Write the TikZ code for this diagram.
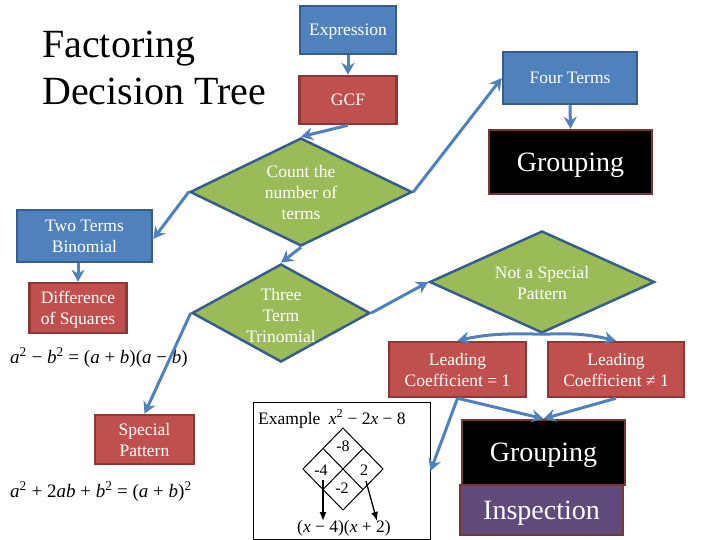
\documentclass[tikz,border=0pt]{standalone}
\usepackage{fontspec}
\setmainfont{Liberation Serif}
\usetikzlibrary{shapes.geometric,arrows.meta,calc}
\definecolor{blueF}{HTML}{4F81BD}
\definecolor{blueD}{HTML}{385D8A}
\definecolor{redF}{HTML}{C0504D}
\definecolor{redD}{HTML}{8C3836}
\definecolor{greenF}{HTML}{9BBB59}
\definecolor{brownD}{HTML}{773535}
\definecolor{purpF}{HTML}{604A7B}
\newcommand\fsz[2]{\fontsize{#1}{#2}\selectfont}
\tikzset{
  boxbase/.style={rectangle, line width=2.5pt, text=white, align=center, inner sep=0pt, text depth=0pt, font=\fsz{17.5}{21}},
  bluebox/.style={boxbase, draw=blueD, fill=blueF},
  redbox/.style={boxbase, draw=redD, fill=redF},
  blackbox/.style={boxbase, draw=brownD, fill=black, font=\fsz{28}{32}},
  purpbox/.style={boxbase, draw=brownD, fill=purpF, font=\fsz{28}{32}},
  dia/.style={diamond, draw=blueD, fill=greenF, line width=2.5pt, inner sep=0pt},
  diatext/.style={text=white, align=center, text depth=0pt, font=\fsz{17.5}{21}},
  arr/.style={draw=blueF, line width=3pt, -{Stealth[length=12pt,width=13pt,inset=4pt]}},
  frm/.style={anchor=base west, inner sep=0pt, font=\fsz{19}{22}},
  exfont/.style={inner sep=0pt, font=\fsz{16}{19}},
  karr/.style={draw=black, line width=1.3pt, -{Latex[length=9pt,width=7pt]}}
}
\begin{document}
\begin{tikzpicture}[x=1pt,y=-1pt]
\useasboundingbox (0,0) rectangle (720,540);
% title
\node[anchor=base west, inner sep=0pt, font=\fsz{40}{46}] (title1) at (42,58) {Factoring};
\node[anchor=base west, inner sep=0pt, font=\fsz{40}{46}] (title2) at (42,105) {Decision Tree};
% boxes
\node[bluebox, minimum width=96pt, minimum height=48pt] (expr) at (348,30) {Expression};
\node[redbox, minimum width=97pt, minimum height=48pt] (gcf) at (348,100) {GCF};
\node[bluebox, minimum width=134pt, minimum height=52pt] (four) at (570,78) {Four Terms};
\node[blackbox, minimum width=163pt, minimum height=64pt] (grp1) at (570.5,162) {Grouping};
\node[dia, minimum width=222pt, minimum height=108pt] (count) at (301,192) {};
\node[diatext] (countt) at (count) {Count the\\number of\\terms};
\node[bluebox, minimum width=135pt, minimum height=52pt] (two) at (84.5,236) {Two Terms\\Binomial};
\node[redbox, minimum width=97pt, minimum height=50pt] (diff) at (78,308) {Difference\\of Squares};
\node[dia, minimum width=178pt, minimum height=98pt] (three) at (281,313) {};
\node[diatext] (threet) at (281,315) {Three\\Term\\Trinomial};
\node[redbox, minimum width=99pt, minimum height=49pt] (special) at (144.5,439.5) {Special\\Pattern};
\node[dia, minimum width=225pt, minimum height=102pt] (notsp) at (542,282) {};
\node[diatext] (notspt) at (542,283) {Not a Special\\Pattern};
\node[redbox, minimum width=137pt, minimum height=55pt] (lead1) at (457.5,369.5) {Leading\\Coefficient = 1};
\node[redbox, minimum width=136pt, minimum height=55pt] (lead2) at (616,369.5) {Leading\\Coefficient ≠ 1};
\node[blackbox, minimum width=163pt, minimum height=65pt] (grp2) at (543.5,452.5) {Grouping};
\node[purpbox, minimum width=163pt, minimum height=50pt] (insp) at (541.5,510) {Inspection};
% formulas
\node[frm] (f1) at (10,363) {\textit{a}\textsuperscript{2} − \textit{b}\textsuperscript{2} = (\textit{a} + \textit{b})(\textit{a} − \textit{b})};
\node[frm] (f2) at (10,497) {\textit{a}\textsuperscript{2} + 2\textit{ab} + \textit{b}\textsuperscript{2} = (\textit{a} + \textit{b})\textsuperscript{2}};
% example box
\node[draw=black, line width=1pt, fill=white, minimum width=177pt, minimum height=137pt, inner sep=0pt] (ex) at (341.5,471) {};
\node[exfont, anchor=base west, font=\fsz{17.5}{20}] (exh) at (258,424) {Example\hspace{4pt} \textit{x}\textsuperscript{2} − 2\textit{x} − 8};
\coordinate (dT) at (343,428);
\coordinate (dR) at (383,469);
\coordinate (dB) at (343,510);
\coordinate (dL) at (303,469);
\draw[line width=1pt] (dT) -- (dR) -- (dB) -- (dL) -- cycle;
\draw[line width=1pt] ($(dT)!.5!(dL)$) -- ($(dR)!.5!(dB)$);
\draw[line width=1pt] ($(dT)!.5!(dR)$) -- ($(dL)!.5!(dB)$);
\node[exfont] (m8) at (343,446) {-8};
\node[exfont] (m4) at (321,470) {-4};
\node[exfont] (p2) at (364,470) {2};
\node[exfont] (m2) at (342,488) {-2};
\node[exfont, anchor=base, font=\fsz{17.5}{20}] (res) at (344,532) {(\textit{x} − 4)(\textit{x} + 2)};
\coordinate (t1) at (323,521);
\coordinate (t2) at (377,521);
\draw[karr] (323,480) -- (t1);
\draw[karr] (366,481) -- (t2);
% connectors
\draw[arr] (expr.south) -- (gcf.north);
\draw[arr] (gcf.south) -- (count.north);
\draw[arr] (count.east) -- (four.west);
\draw[arr] (four.south) -- (grp1.north);
\draw[arr] (count.west) -- ([yshift=-3pt]two.east);
\draw[arr] (diff.north |- two.south) -- (diff.north);
\draw[arr] (count.south) -- (three.north);
\draw[arr] (three.west) -- (special.north);
\draw[arr] (three.east) -- (notsp.west);
\draw[arr] (notsp.south) .. controls +(-30,-1) and +(30,-7) .. (lead1.north);
\draw[arr] (notsp.south) .. controls +(30,-1) and +(-30,-7) .. (lead2.north);
\draw[arr] (lead1.south) -- (ex.east);
\draw[arr] (lead1.south) -- (grp2.north);
\draw[arr] (lead2.south) -- (grp2.north);
\end{tikzpicture}
\end{document}
